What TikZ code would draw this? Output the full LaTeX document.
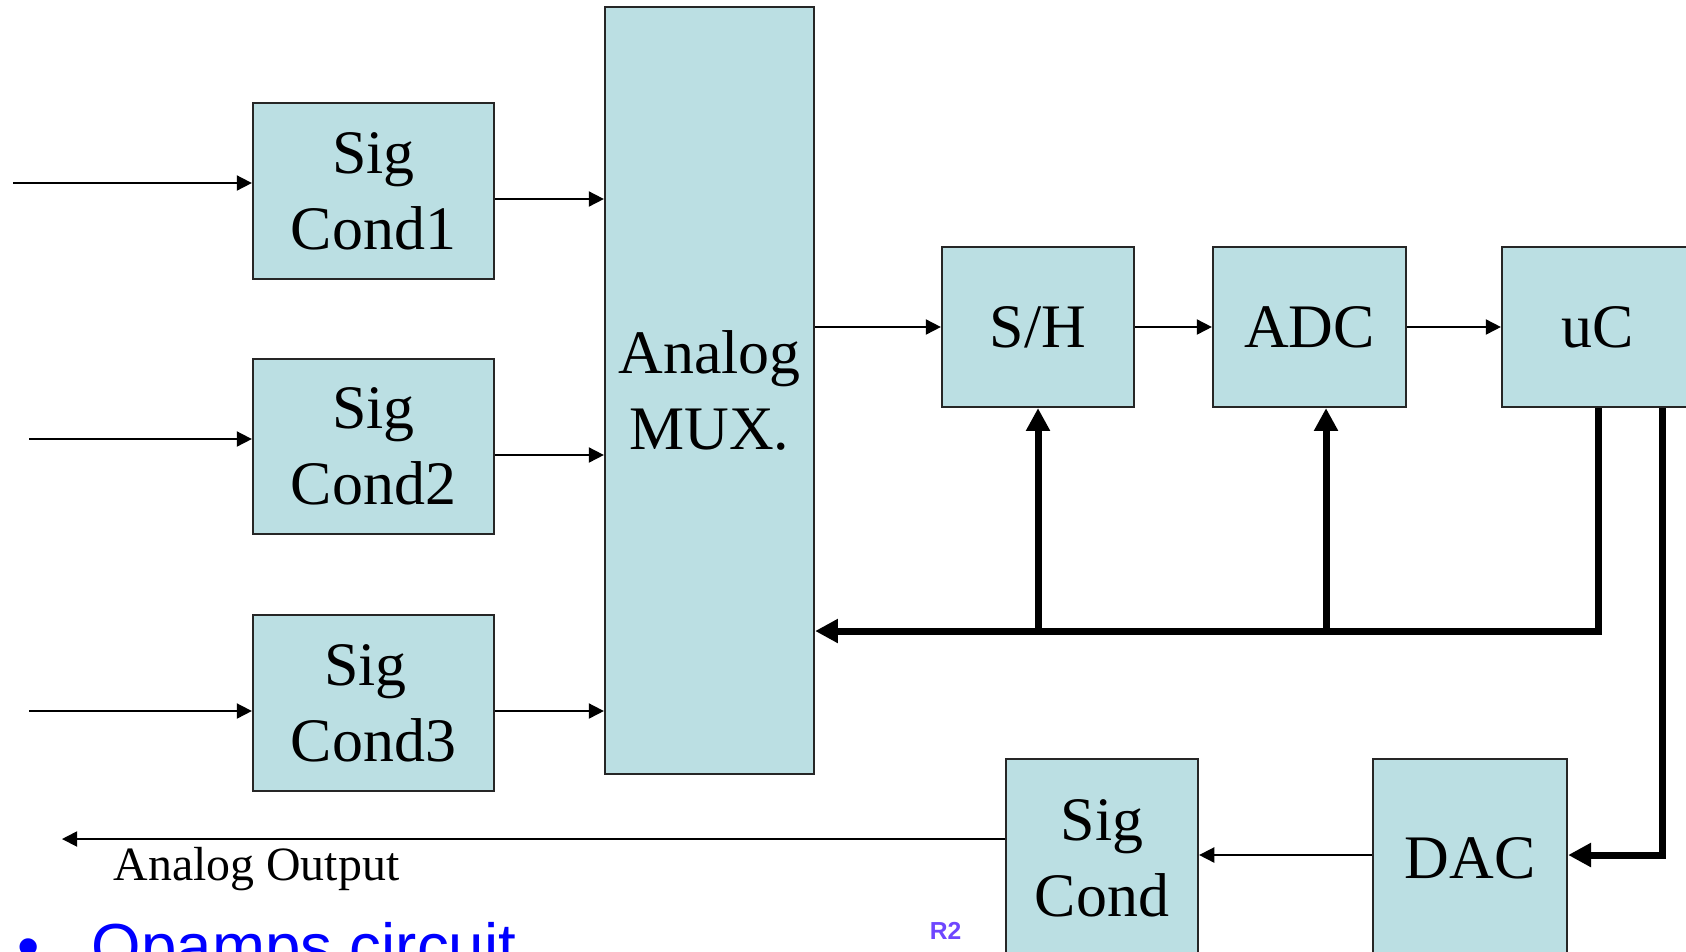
\documentclass[tikz,border=0pt]{standalone}
\usepackage{fontspec}
\setmainfont{Liberation Serif}
\newfontfamily\slidefont{Liberation Sans}
\usepackage{xcolor}
\usepackage{tikz}
\usetikzlibrary{arrows.meta}

\definecolor{boxfill}{RGB}{187,223,227}
\definecolor{notecol}{RGB}{110,70,255}

\tikzset{
  blk/.style={draw=black!85, line width=0.6pt, fill=boxfill, inner sep=0pt,
    align=center, font=\fontsize{17.6pt}{21.6pt}\selectfont},
  sig/.style={line width=0.5pt, -{Triangle[length=4.3pt,width=4.3pt]}},
  bus/.style={line width=2pt, -{Triangle[length=6.5pt,width=6.5pt]}}
}

\begin{document}
\begin{tikzpicture}[x=0.01cm, y=-0.01cm]
\useasboundingbox (0,0) rectangle (1686,951);
\clip (0,0) rectangle (1686,951);

% Blocks
\node[blk, minimum width=2.41cm, minimum height=1.76cm] (sc1) at (373.5,191) {Sig\\Cond1};
\node[blk, minimum width=2.41cm, minimum height=1.75cm] (sc2) at (373.5,446.5) {Sig\\Cond2};
\node[blk, minimum width=2.41cm, minimum height=1.76cm] (sc3) at (373.5,703) {Sig\hspace*{0.16cm}\\Cond3};
\node[blk, minimum width=2.09cm, minimum height=7.66cm] (mux) at (709.5,390.5) {Analog\\MUX.};
\node[blk, minimum width=1.92cm, minimum height=1.60cm] (sh) at (1038,327) {S/H};
\node[blk, minimum width=1.93cm, minimum height=1.60cm] (adc) at (1309.5,327) {ADC};
\node[blk, minimum width=1.92cm, minimum height=1.60cm] (uc) at (1598,327) {uC};
\node[blk, minimum width=1.92cm, minimum height=1.98cm] (scout) at (1102,858) {Sig\\Cond};
\node[blk, minimum width=1.94cm, minimum height=1.98cm] (dac) at (1470,858) {DAC};

% Inputs
\coordinate (in1) at (13,183);
\coordinate (in2) at (29,439);
\coordinate (in3) at (29,711);
\draw[sig] (in1) -- (in1 -| sc1.west);
\draw[sig] (in2) -- (in2 -| sc2.west);
\draw[sig] (in3) -- (in3 -| sc3.west);

% Into the MUX
\draw[sig] (sc1.east |- 0,199) -- (mux.west |- 0,199);
\draw[sig] (sc2.east |- 0,455) -- (mux.west |- 0,455);
\draw[sig] (sc3.east |- 0,711) -- (mux.west |- 0,711);

% Conversion chain
\draw[sig] (mux.east |- sh.west) -- (sh.west);
\draw[sig] (sh.east) -- (adc.west);
\draw[sig] (adc.east) -- (uc.west);

% Control bus
\coordinate (bus) at (1598,631);
\draw[bus] (uc.south) -- (uc.south |- bus) -- (bus -| mux.east);
\draw[bus] (sh.south |- bus) -- (sh.south);
\draw[bus] ([xshift=0.165cm]adc.south |- bus) -- ([xshift=0.165cm]adc.south);

% Output path
\draw[bus] ([xshift=0.64cm]uc.south) |- ([yshift=0.03cm]dac.east);
\draw[sig] ([yshift=0.03cm]dac.west) -- ([yshift=0.03cm]dac.west -| scout.east);
\coordinate (aout) at (62,839);
\draw[sig] (scout.west |- aout) -- (aout);
\node[anchor=base, font=\fontsize{13.6pt}{16pt}\selectfont] (aoutlbl) at (256.5,880) {Analog Output};

% Slide text
\node[anchor=base west, inner sep=0pt, text=blue, font=\slidefont\fontsize{18.1pt}{22pt}\selectfont] (bul) at (17,968) {\textbullet};
\node[anchor=base west, inner sep=0pt, text=blue, font=\slidefont\fontsize{18.1pt}{22pt}\selectfont] (opamp) at (91,968) {Opamps circuit};
\node[inner sep=0pt, text=notecol, font=\slidefont\bfseries\fontsize{7pt}{8pt}\selectfont] (rtwo) at (945.5,931) {R2};

\end{tikzpicture}
\end{document}
